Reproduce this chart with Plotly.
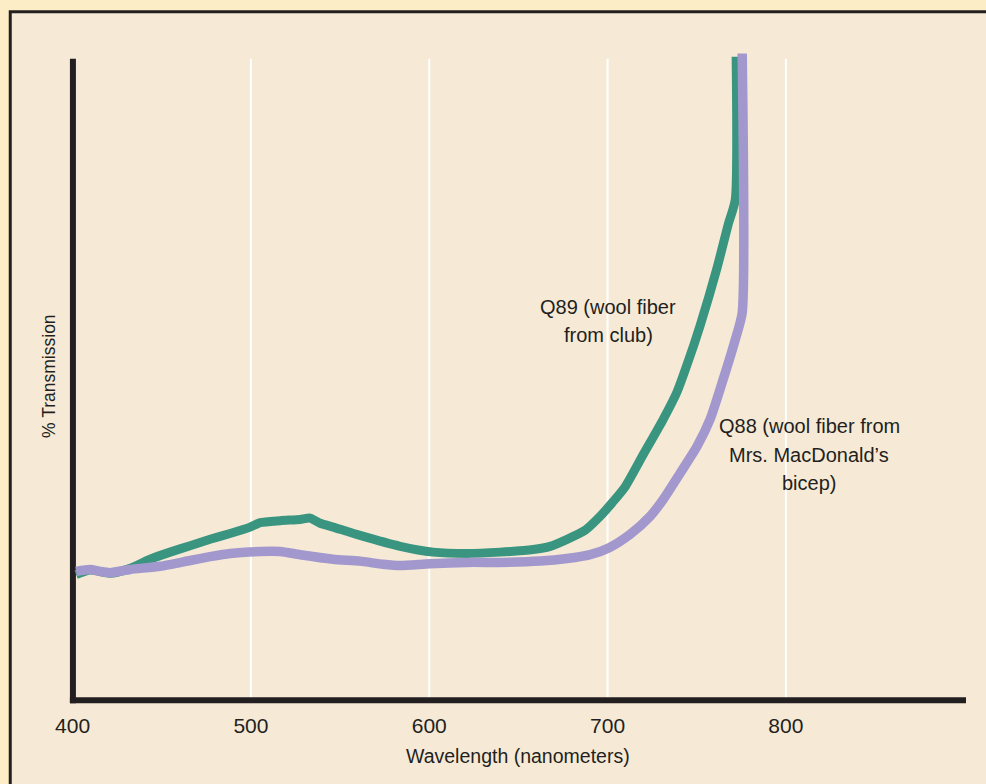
import plotly.graph_objects as go

# ---- data ----
q89_wavelength = [402.0, 409.8, 421.0, 432.3, 443.5, 454.7, 465.9, 477.1, 488.3, 499.6,
                  505.2, 516.4, 527.6, 533.2, 538.8, 546.1, 561.2, 583.7, 602.2, 621.3,
                  639.8, 658.3, 667.8, 677.3, 687.4, 695.9, 702.6, 709.9, 720.0, 731.2,
                  739.0, 745.2, 751.9, 761.5, 767.6, 771.6, 772.1]
q89_transmission = [19.6, 20.3, 19.8, 20.6, 22.0, 23.1, 24.1, 25.1, 26.0, 27.0,
                    27.7, 28.0, 28.2, 28.4, 27.6, 27.0, 25.7, 24.0, 23.1, 22.9,
                    23.1, 23.5, 24.0, 25.1, 26.5, 28.7, 30.8, 33.3, 38.3, 43.8,
                    48.1, 52.8, 58.4, 67.5, 74.1, 78.0, 100.3]

q88_wavelength = [402.0, 409.8, 415.4, 421.0, 432.3, 449.1, 465.9, 477.1, 488.3, 505.2,
                  516.4, 527.6, 546.1, 561.2, 574.1, 583.7, 600.5, 621.3, 639.8, 662.2,
                  677.3, 690.2, 700.9, 712.7, 723.9, 731.2, 740.7, 750.2, 757.5, 764.8,
                  771.6, 775.5, 775.5]
q88_transmission = [20.1, 20.4, 20.1, 19.9, 20.4, 20.9, 21.8, 22.4, 22.9, 23.2,
                    23.2, 22.7, 22.0, 21.7, 21.2, 21.0, 21.3, 21.5, 21.5, 21.7,
                    22.1, 22.7, 23.8, 25.9, 28.7, 31.3, 35.4, 39.6, 43.8, 50.0,
                    56.2, 60.4, 100.8]

x_ticks = [400, 500, 600, 700, 800]
grid_x = [500, 600, 700, 800]
x_title = "Wavelength (nanometers)"
y_title = "% Transmission"
q89_label = ["Q89 (wool fiber", "from club)"]
q88_label = ["Q88 (wool fiber from", "Mrs. MacDonald’s", "bicep)"]

# ---- style ----
FONT = "Liberation Sans, Arial, sans-serif"
INK = "#231f20"
GREEN = "#3a9580"
PURPLE = "#a398ce"
PANEL = "#f6ead6"
OUTER = "#fdedc7"

fig = go.Figure()
fig.add_trace(go.Scatter(x=q89_wavelength, y=q89_transmission, mode="lines",
                         line=dict(color=GREEN, width=9, shape="spline", smoothing=0.6),
                         hoverinfo="skip", showlegend=False))
fig.add_trace(go.Scatter(x=q88_wavelength, y=q88_transmission, mode="lines",
                         line=dict(color=PURPLE, width=9.5, shape="spline", smoothing=0.6),
                         hoverinfo="skip", showlegend=False))

shapes = []
# outer panel
shapes.append(dict(type="rect", xref="paper", yref="paper",
                   x0=-0.0655, x1=1.05, y0=-0.15, y1=1.0565,
                   fillcolor=PANEL, line=dict(color=INK, width=3), layer="below"))
# gridlines
for gx in grid_x:
    shapes.append(dict(type="line", xref="x", yref="y", x0=gx, x1=gx, y0=0, y1=100,
                       line=dict(color="white", width=2), layer="below"))
# axis lines
shapes.append(dict(type="line", xref="x", yref="y", x0=400.2, x1=400.2, y0=-0.45, y1=100,
                   line=dict(color=INK, width=6), layer="below"))
shapes.append(dict(type="line", xref="x", yref="y", x0=398.5, x1=901, y0=0, y1=0,
                   line=dict(color=INK, width=6), layer="below"))

annotations = []
for i, t in enumerate(q89_label):
    annotations.append(dict(text=t, x=700.3, y=61.3 - i * 4.3, xref="x", yref="y",
                            xanchor="center", yanchor="middle",
                            showarrow=False, font=dict(family=FONT, size=20, color=INK)))
for i, t in enumerate(q88_label):
    annotations.append(dict(text=t, x=813, y=42.7 - i * 4.4, xref="x", yref="y",
                            xanchor="center", yanchor="middle",
                            showarrow=False, font=dict(family=FONT, size=20, color=INK)))
annotations.append(dict(text=x_title, x=650, y=-0.0702, xref="x", yref="paper",
                        xanchor="center", yanchor="middle",
                        showarrow=False, font=dict(family=FONT, size=19.5, color=INK)))
annotations.append(dict(text=y_title, x=-0.0216, y=50.5, xref="paper", yref="y",
                        xanchor="center", yanchor="middle",
                        textangle=-90, showarrow=False,
                        font=dict(family=FONT, size=17.5, color=INK)))

fig.update_layout(
    width=986, height=784,
    margin=dict(l=69, r=20, t=49, b=74, pad=0),
    paper_bgcolor=OUTER, plot_bgcolor="rgba(0,0,0,0)",
    shapes=shapes, annotations=annotations,
    xaxis=dict(range=[398, 901], tickvals=x_ticks, ticks="", showgrid=False,
               zeroline=False, showline=False,
               tickfont=dict(family=FONT, size=21, color=INK), ticklabelstandoff=1),
    yaxis=dict(range=[-1.5, 101.5], showticklabels=False, showgrid=False,
               zeroline=False, showline=False, ticks=""),
)

fig.write_html("out.html",
               config={"displayModeBar": False},
               post_script="document.body.style.margin='0';"
                           "document.body.style.background='" + OUTER + "';"
                           "document.body.style.overflow='hidden';")
